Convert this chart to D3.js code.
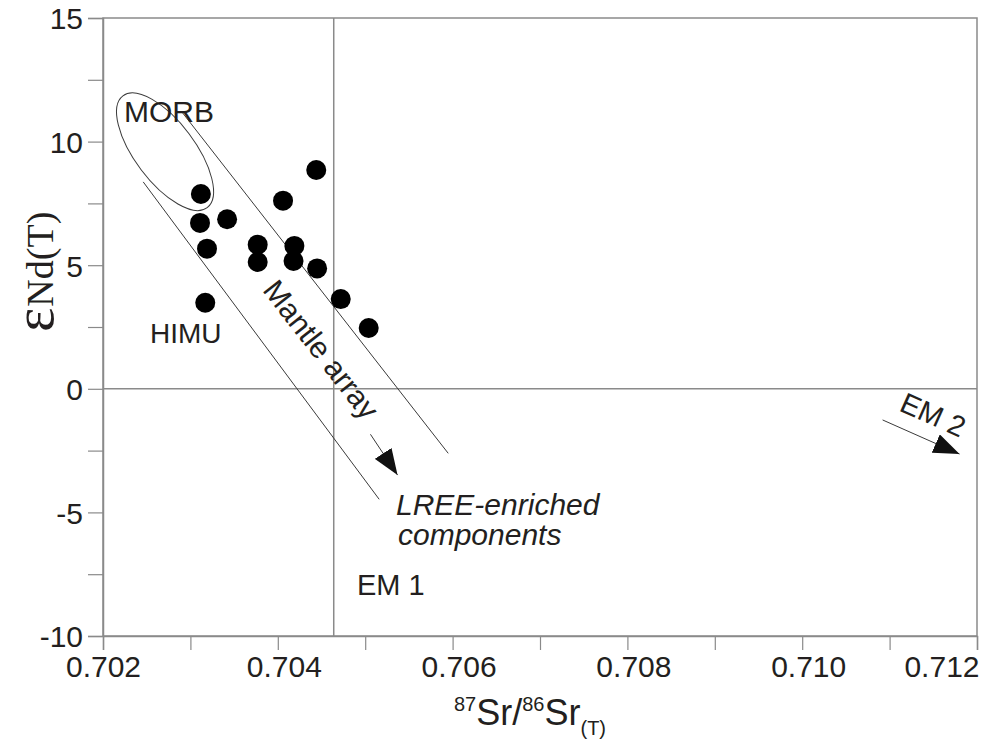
<!DOCTYPE html>
<html>
<head>
<meta charset="utf-8">
<script src="https://cdn.jsdelivr.net/npm/d3@7"></script>
<style>
  html, body { margin: 0; padding: 0; background: #fff; }
  svg { display: block; }
  text { font-family: "Liberation Sans", Arial, sans-serif; fill: #231f20; }
</style>
</head>
<body>
<div id="chart"></div>
<script>
// samples: [87Sr/86Sr(T), eNd(T)]
const samples = [
  [0.70444, 8.85], [0.70312, 7.88], [0.70406, 7.61], [0.70311, 6.71],
  [0.70342, 6.86], [0.70319, 5.67], [0.70377, 5.83], [0.70377, 5.13],
  [0.70419, 5.78], [0.70418, 5.17], [0.70445, 4.87], [0.70472, 3.63],
  [0.70504, 2.46], [0.70317, 3.48],
];

const xTicks = [0.702, 0.703, 0.704, 0.705, 0.706, 0.707, 0.708, 0.709, 0.710, 0.711, 0.712];
const xLabels = [0.702, 0.704, 0.706, 0.708, 0.710, 0.712];
const yTicks = [-10, -7.5, -5, -2.5, 0, 2.5, 5, 7.5, 10, 12.5, 15];
const yLabels = [-10, -5, 0, 5, 10, 15];

// bulk earth reference lines
const bulkSr = 0.70464;
const bulkNd = 0;

// mantle array bounds and arrows, [sr, nd] end points
const mantleUpper = [[0.70290, 11.21], [0.70595, -2.61]];
const mantleLower = [[0.70246, 8.37], [0.70516, -4.47]];
const mantleArrow = [[0.70506, -1.84], [0.70537, -3.49]];
const em2Arrow = [[0.71092, -1.26], [0.71180, -2.64]];

// MORB field: centre in data units
const morbCentre = [0.70271, 9.59];

const width = 991;
const height = 742;

const x = d3.scaleLinear().domain([0.702, 0.712]).range([103, 977]);
const y = d3.scaleLinear().domain([-10, 15]).range([636, 18]);

const svg = d3.select('#chart').append('svg')
  .attr('width', width)
  .attr('height', height);

svg.append('defs').append('marker')
  .attr('id', 'head')
  .attr('viewBox', '0 -10 26 20')
  .attr('refX', 26)
  .attr('refY', 0)
  .attr('markerUnits', 'userSpaceOnUse')
  .attr('markerWidth', 26)
  .attr('markerHeight', 20)
  .attr('orient', 'auto')
  .append('path')
  .attr('d', 'M0,-10L26,0L0,10Z')
  .attr('fill', '#111');

const axisColor = '#8a8a8a';

// frame
svg.append('rect')
  .attr('x', x(0.702))
  .attr('y', y(15))
  .attr('width', x(0.712) - x(0.702))
  .attr('height', y(-10) - y(15))
  .attr('fill', 'none')
  .attr('stroke', axisColor)
  .attr('stroke-width', 1.5);

// reference lines
svg.append('line')
  .attr('x1', x(bulkSr)).attr('x2', x(bulkSr))
  .attr('y1', y(15)).attr('y2', y(-10))
  .attr('stroke', axisColor).attr('stroke-width', 1.5);
svg.append('line')
  .attr('x1', x(0.702)).attr('x2', x(0.712))
  .attr('y1', y(bulkNd)).attr('y2', y(bulkNd))
  .attr('stroke', axisColor).attr('stroke-width', 1.5);

// axes
const isLabel = d => xLabels.some(v => Math.abs(v - d) < 1e-9);
const xAxis = d3.axisBottom(x)
  .tickValues(xTicks)
  .tickSize(14)
  .tickPadding(6)
  .tickFormat(d => isLabel(d) ? d3.format('.3f')(d) : '');
const yAxis = d3.axisLeft(y)
  .tickValues(yTicks)
  .tickSize(15)
  .tickPadding(5)
  .tickFormat(d => yLabels.includes(d) ? d : '');

const gx = svg.append('g')
  .attr('transform', `translate(0,${y(-10)})`)
  .call(xAxis);
const gy = svg.append('g')
  .attr('transform', `translate(${x(0.702)},0)`)
  .call(yAxis);

[gx, gy].forEach(g => {
  g.select('.domain').attr('stroke', axisColor).attr('stroke-width', 1.5);
  g.selectAll('.tick line').attr('stroke', axisColor).attr('stroke-width', 1.2);
  g.selectAll('.tick text')
    .attr('font-family', '"Liberation Sans", Arial, sans-serif')
    .attr('font-size', 30)
    .attr('fill', '#231f20');
});
// labels sit a little right of their ticks, last one kept inside the frame
gx.selectAll('.tick text')
  .attr('dx', (d, i) => (i === 0 ? 0 : 6))
  .filter(d => d === 0.712)
  .attr('text-anchor', 'end')
  .attr('dx', 2);
gy.selectAll('.tick text').attr('dy', '0.36em');

// axis titles
const xTitle = svg.append('text')
  .attr('x', 530)
  .attr('y', 725)
  .attr('text-anchor', 'middle')
  .attr('font-size', 36);
xTitle.append('tspan').attr('font-size', 20).attr('dy', -14).text('87');
xTitle.append('tspan').attr('dy', 14).text('Sr/');
xTitle.append('tspan').attr('font-size', 20).attr('dy', -14).text('86');
xTitle.append('tspan').attr('dy', 14).text('Sr');
xTitle.append('tspan').attr('font-size', 20).attr('dy', 10).text('(T)');

const yTitle = svg.append('text')
  .attr('transform', 'translate(53,332) rotate(-90)')
  .style('font-family', '"Liberation Serif", "Times New Roman", serif');
yTitle.append('tspan').attr('font-size', 58).text('ε');
yTitle.append('tspan').attr('font-size', 38).attr('dy', 0).attr('dx', 1).text('Nd(T)');

// mantle array
const line = d3.line().x(d => x(d[0])).y(d => y(d[1]));
[mantleUpper, mantleLower].forEach(seg => {
  svg.append('path')
    .attr('d', line(seg))
    .attr('fill', 'none')
    .attr('stroke', '#3a3a3a')
    .attr('stroke-width', 1);
});

[mantleArrow, em2Arrow].forEach(seg => {
  svg.append('path')
    .attr('d', line(seg))
    .attr('fill', 'none')
    .attr('stroke', '#3a3a3a')
    .attr('stroke-width', 1)
    .attr('marker-end', 'url(#head)');
});

// MORB field
svg.append('ellipse')
  .attr('cx', 0).attr('cy', 0)
  .attr('rx', 70).attr('ry', 30)
  .attr('transform', `translate(${x(morbCentre[0])},${y(morbCentre[1])}) rotate(53)`)
  .attr('fill', 'none')
  .attr('stroke', '#3a3a3a')
  .attr('stroke-width', 1);

// samples
svg.append('g').selectAll('circle')
  .data(samples)
  .join('circle')
  .attr('cx', d => x(d[0]))
  .attr('cy', d => y(d[1]))
  .attr('r', 10)
  .attr('fill', '#000');

// labels
const label = (tx, ty, str, opts = {}) => {
  const t = svg.append('text')
    .attr('x', tx)
    .attr('y', ty)
    .attr('font-size', opts.size || 29)
    .attr('text-anchor', opts.anchor || 'start')
    .text(str);
  if (opts.italic) t.attr('font-style', 'italic');
  if (opts.rotate) t.attr('transform', `rotate(${opts.rotate},${tx},${ty})`);
  return t;
};

label(124, 122, 'MORB', {size: 30});
label(150, 343, 'HIMU', {size: 28});
label(357, 595, 'EM 1', {size: 29});
label(396, 515, 'LREE-enriched', {size: 30, italic: true});
label(398, 545, 'components', {size: 30, italic: true});
label(313, 356, 'Mantle array', {size: 30, anchor: 'middle', rotate: 52});
label(929, 424, 'EM 2', {size: 29, anchor: 'middle', rotate: 24});
</script>
</body>
</html>
